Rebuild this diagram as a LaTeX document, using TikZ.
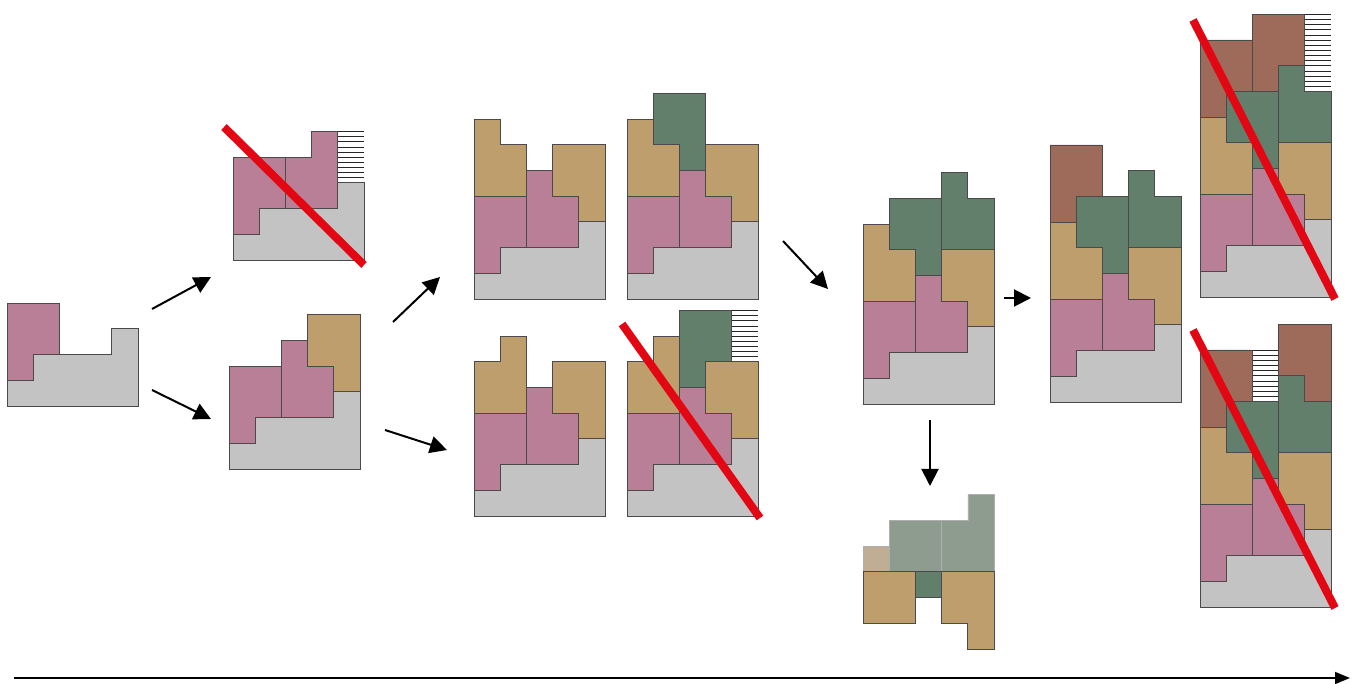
\documentclass[tikz,border=0pt]{standalone}
\usetikzlibrary{arrows.meta}

\definecolor{cgray}{HTML}{C3C3C3}
\definecolor{cpink}{HTML}{B87F96}
\definecolor{ctan}{HTML}{BD9E6C}
\definecolor{cgreen}{HTML}{627F6C}
\definecolor{cbrown}{HTML}{9E6B5B}
\definecolor{cedge}{HTML}{4A4A4A}
\definecolor{cred}{HTML}{E30613}
\definecolor{cfgreen}{HTML}{8E9B8F}
\definecolor{cftan}{HTML}{BFAE94}

\tikzset{
  piece/.style={draw=cedge, line width=0.8pt, line join=miter},
  pgray/.style={piece, fill=cgray},
  ppink/.style={piece, fill=cpink},
  ptan/.style={piece, fill=ctan},
  pgreen/.style={piece, fill=cgreen},
  pbrown/.style={piece, fill=cbrown},
  pfgreen/.style={draw=cedge!45, line width=0.6pt, fill=cfgreen},
  pftan/.style={draw=cedge!45, line width=0.6pt, fill=cftan},
  hatchline/.style={draw=black!85, line width=0.6pt},
  strike/.style={draw=cred, line width=8pt},
  flow/.style={draw=black, line width=2pt, -{Triangle[length=17pt,width=17pt]}},
  timeline/.style={draw=black, line width=1.6pt, -{Triangle[length=15pt,width=12pt]}},
  board/.style={x=26.2pt, y=25.7pt}
}

% pieces of the well, in grid units
\newcommand\pcGray{\filldraw[pgray] (0,0)--(5,0)--(5,3)--(4,3)--(4,2)--(1,2)--(1,1)--(0,1)--cycle;}
\newcommand\pcPinkA{\filldraw[ppink] (0,1)--(1,1)--(1,2)--(2,2)--(2,4)--(0,4)--cycle;}
\newcommand\pcPinkB{\filldraw[ppink] (2,2)--(4,2)--(4,4)--(3,4)--(3,5)--(2,5)--cycle;}
\newcommand\pcPinkC{\filldraw[ppink] (2,2)--(4,2)--(4,5)--(3,5)--(3,4)--(2,4)--cycle;}
\newcommand\pcTanA{\filldraw[ptan] (0,4)--(2,4)--(2,6)--(1,6)--(1,7)--(0,7)--cycle;}
\newcommand\pcTanC{\filldraw[ptan] (0,4)--(2,4)--(2,7)--(1,7)--(1,6)--(0,6)--cycle;}
\newcommand\pcTanB{\filldraw[ptan] (3,4)--(4,4)--(4,3)--(5,3)--(5,6)--(3,6)--cycle;}
\newcommand\pcGreenA{\filldraw[pgreen] (1,6)--(2,6)--(2,5)--(3,5)--(3,8)--(1,8)--cycle;}
\newcommand\pcGreenC{\filldraw[pgreen] (2,5)--(3,5)--(3,6)--(4,6)--(4,8)--(2,8)--cycle;}
\newcommand\pcGreenB{\filldraw[pgreen] (3,6)--(5,6)--(5,8)--(4,8)--(4,9)--(3,9)--cycle;}
\newcommand\pcBrownA{\filldraw[pbrown] (0,7)--(1,7)--(1,8)--(2,8)--(2,10)--(0,10)--cycle;}
\newcommand\pcBrownB{\filldraw[pbrown] (2,8)--(3,8)--(3,9)--(4,9)--(4,11)--(2,11)--cycle;}
\newcommand\pcBrownC{\filldraw[pbrown] (3,9)--(4,9)--(4,8)--(5,8)--(5,11)--(3,11)--cycle;}
% horizontal hatching: column, lower row, upper row
\newcommand\hatchcol[3]{\foreach \k in {0,...,50}{%
  \pgfmathsetmacro\hy{#2+0.2*\k}%
  \ifdim\hy pt<#3.01pt \draw[hatchline] (#1,\hy)--(#1+1,\hy);\fi}}

\begin{document}
\begin{tikzpicture}[x=1pt, y=-1pt]
\useasboundingbox (0,0) rectangle (1353,684);

% starting well
\begin{scope}[shift={(7,406)}, board]
  \pcGray \pcPinkA
\end{scope}

% second pink piece: rejected and kept placements
\begin{scope}[shift={(233,260)}, board]
  \hatchcol{4}{3}{5}
  \pcGray \pcPinkA \pcPinkC
\end{scope}
\begin{scope}[shift={(229,469)}, board]
  \pcGray \pcPinkA \pcPinkB \pcTanB
\end{scope}

% tan pieces
\begin{scope}[shift={(474,299)}, board]
  \pcGray \pcPinkA \pcPinkB \pcTanA \pcTanB
\end{scope}
\begin{scope}[shift={(627,299)}, board]
  \pcGray \pcPinkA \pcPinkB \pcTanA \pcTanB \pcGreenA
\end{scope}
\begin{scope}[shift={(474,516)}, board]
  \pcGray \pcPinkA \pcPinkB \pcTanC \pcTanB
\end{scope}
\begin{scope}[shift={(627,516)}, board]
  \hatchcol{4}{6}{8}
  \pcGray \pcPinkA \pcPinkB \pcTanC \pcTanB \pcGreenC
\end{scope}

% green pieces
\begin{scope}[shift={(863,404)}, board]
  \pcGray \pcPinkA \pcPinkB \pcTanA \pcTanB \pcGreenA \pcGreenB
\end{scope}

% well after the full rows are cleared
\begin{scope}[shift={(863,726)}, board]
  \filldraw[pftan] (0,6)--(1,6)--(1,7)--(0,7)--cycle;
  \filldraw[pfgreen] (1,6)--(3,6)--(3,8)--(1,8)--cycle;
  \filldraw[pfgreen] (3,6)--(5,6)--(5,9)--(4,9)--(4,8)--(3,8)--cycle;
  \filldraw[ptan] (0,4)--(2,4)--(2,6)--(0,6)--cycle;
  \filldraw[pgreen] (2,5)--(3,5)--(3,6)--(2,6)--cycle;
  \pcTanB
\end{scope}

% brown pieces
\begin{scope}[shift={(1050,402)}, board]
  \pcGray \pcPinkA \pcPinkB \pcTanA \pcTanB \pcGreenA \pcGreenB \pcBrownA
\end{scope}
\begin{scope}[shift={(1200,297)}, board]
  \hatchcol{4}{8}{11}
  \pcGray \pcPinkA \pcPinkB \pcTanA \pcTanB \pcGreenA \pcGreenB \pcBrownA \pcBrownB
\end{scope}
\begin{scope}[shift={(1200,607)}, board]
  \hatchcol{2}{8}{10}
  \pcGray \pcPinkA \pcPinkB \pcTanA \pcTanB \pcGreenA \pcGreenB \pcBrownA \pcBrownC
\end{scope}

% strike-outs of rejected placements
\coordinate (s1a) at (224,127); \coordinate (s1b) at (364,265);
\coordinate (s2a) at (622,324); \coordinate (s2b) at (760,518);
\coordinate (s3a) at (1193,20);  \coordinate (s3b) at (1335,299);
\coordinate (s4a) at (1193,330); \coordinate (s4b) at (1335,608);
\draw[strike] (s1a)--(s1b);
\draw[strike] (s2a)--(s2b);
\draw[strike] (s3a)--(s3b);
\draw[strike] (s4a)--(s4b);

% flow arrows
\coordinate (f1a) at (152,309); \coordinate (f1b) at (211,277);
\coordinate (f2a) at (152,390); \coordinate (f2b) at (211,419);
\coordinate (f3a) at (393,322); \coordinate (f3b) at (440,277);
\coordinate (f4a) at (385,430); \coordinate (f4b) at (447,450);
\coordinate (f5a) at (783,241); \coordinate (f5b) at (828,289);
\coordinate (f6a) at (1004,298); \coordinate (f6b) at (1031,298);
\coordinate (f7a) at (930,420); \coordinate (f7b) at (930,486);
\draw[flow] (f1a)--(f1b);
\draw[flow] (f2a)--(f2b);
\draw[flow] (f3a)--(f3b);
\draw[flow] (f4a)--(f4b);
\draw[flow] (f5a)--(f5b);
\draw[flow] (f6a)--(f6b);
\draw[flow] (f7a)--(f7b);

% time axis
\coordinate (t0) at (14,678); \coordinate (t1) at (1350,678);
\draw[timeline] (t0)--(t1);
\end{tikzpicture}
\end{document}
